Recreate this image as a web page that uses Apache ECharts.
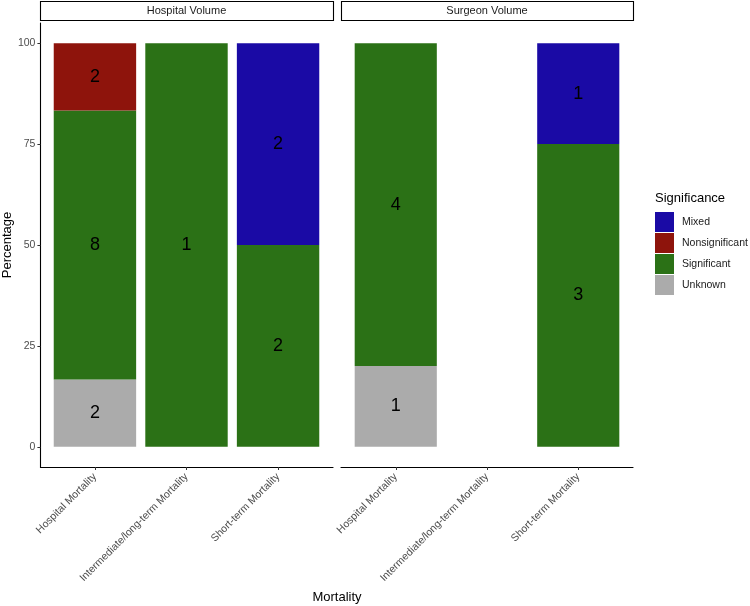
<!DOCTYPE html>
<html>
<head>
<meta charset="utf-8">
<script src="https://cdn.jsdelivr.net/npm/echarts@6/dist/echarts.min.js"></script>
<style>
  html, body { margin: 0; padding: 0; background: #fff; }
  #chart { width: 750px; height: 606px; }
</style>
</head>
<body>
<div id="chart"></div>
<script>
  // facets, categories and fill levels
  const panels = ['Hospital Volume', 'Surgeon Volume']
  const categories = ['Hospital Mortality', 'Intermediate/long-term Mortality', 'Short-term Mortality']
  const levels = ['Mixed', 'Nonsignificant', 'Significant', 'Unknown']
  const levelColors = ['#1a0aa5', '#8e140c', '#2b7116', '#ababab']

  // study counts per category
  const hospitalMixed = [0, 0, 2]
  const hospitalNonsignificant = [2, 0, 0]
  const hospitalSignificant = [8, 1, 2]
  const hospitalUnknown = [2, 0, 0]
  const surgeonMixed = [0, 0, 1]
  const surgeonNonsignificant = [0, 0, 0]
  const surgeonSignificant = [4, 0, 3]
  const surgeonUnknown = [1, 0, 0]

  const yTicks = [0, 25, 50, 75, 100]

  const counts = [
    { Mixed: hospitalMixed, Nonsignificant: hospitalNonsignificant, Significant: hospitalSignificant, Unknown: hospitalUnknown },
    { Mixed: surgeonMixed, Nonsignificant: surgeonNonsignificant, Significant: surgeonSignificant, Unknown: surgeonUnknown }
  ]

  const font = 'Liberation Sans, Arial, sans-serif'
  // panel frames (ggplot expands a discrete axis by 0.6 of a band on each side)
  const frames = [
    { left: 40, top: 23, width: 293, height: 444 },
    { left: 341, top: 23, width: 292, height: 444 }
  ]
  const barGrids = frames.map(f => {
    const band = f.width / 3.2
    return { left: f.left + band * 0.1, top: f.top, width: band * 3, height: f.height }
  })

  const chart = echarts.init(document.getElementById('chart'))

  const xAxes = []
  const yAxes = []
  // bar grids 0,1
  barGrids.forEach((g, i) => {
    xAxes.push({
      type: 'category',
      gridIndex: i,
      position: 'bottom',
      data: categories,
      axisLine: { show: false, onZero: false },
      axisTick: { show: true, alignWithLabel: true, length: 3, lineStyle: { color: '#333' } },
      axisLabel: {
        interval: 0,
        rotate: 45,
        margin: 8,
        color: '#4d4d4d',
        fontSize: 10.5,
        fontFamily: font
      }
    })
    yAxes.push({
      type: 'value',
      gridIndex: i,
      min: -5,
      max: 105,
      show: false,
      splitLine: { show: false }
    })
  })
  // frame grids 2,3
  frames.forEach((g, i) => {
    xAxes.push({
      type: 'value',
      gridIndex: i + 2,
      min: 0,
      max: 1,
      axisLine: { show: true, onZero: false, lineStyle: { color: '#000', width: 1.1 } },
      axisTick: { show: false },
      axisLabel: { show: false },
      splitLine: { show: false }
    })
    yAxes.push({
      type: 'value',
      gridIndex: i + 2,
      min: -5,
      max: 105,
      name: i === 0 ? 'Percentage' : '',
      nameLocation: 'middle',
      nameRotate: 90,
      nameGap: 23,
      nameTextStyle: { color: '#000', fontSize: 13, fontFamily: font },
      axisLine: { show: i === 0, onZero: false, lineStyle: { color: '#000', width: 1.1 } },
      axisTick: { show: i === 0, length: 3, customValues: yTicks, lineStyle: { color: '#333' } },
      axisLabel: { show: i === 0, customValues: yTicks, color: '#4d4d4d', fontSize: 10.5, fontFamily: font, margin: 5 },
      splitLine: { show: false }
    })
  })

  // bottom-to-top stacking order (ggplot puts first level on top)
  const stackOrder = ['Unknown', 'Significant', 'Nonsignificant', 'Mixed']
  const series = []
  panels.forEach((p, pi) => {
    const c = counts[pi]
    const totals = categories.map((cat, k) => levels.reduce((s, l) => s + c[l][k], 0))
    stackOrder.forEach(level => {
      series.push({
        name: level,
        type: 'bar',
        xAxisIndex: pi,
        yAxisIndex: pi,
        stack: 'panel' + pi,
        barWidth: '90%',
        itemStyle: { color: levelColors[levels.indexOf(level)] },
        label: {
          show: true,
          position: 'inside',
          color: '#000',
          fontSize: 18,
          fontFamily: font,
          formatter: params => params.data.count ? String(params.data.count) : ''
        },
        data: categories.map((cat, k) => {
          const n = c[level][k]
          return { value: totals[k] ? n / totals[k] * 100 : 0, count: n }
        })
      })
    })
  })

  const graphics = []
  panels.forEach((p, i) => {
    const g = frames[i]
    graphics.push({
      type: 'rect',
      shape: { x: g.left + 0.5, y: 1.5, width: g.width, height: 19 },
      style: { fill: '#fff', stroke: '#000', lineWidth: 1.1 }
    })
    graphics.push({
      type: 'text',
      x: g.left + g.width / 2,
      y: 11,
      style: { text: p, fill: '#1a1a1a', fontSize: 11, fontFamily: font, align: 'center', verticalAlign: 'middle' }
    })
  })
  graphics.push({
    type: 'text',
    x: 337,
    y: 597,
    style: { text: 'Mortality', fill: '#000', fontSize: 13, fontFamily: font, align: 'center', verticalAlign: 'middle' }
  })

  chart.setOption({
    animation: false,
    backgroundColor: '#fff',
    textStyle: { fontFamily: font },
    title: {
      text: 'Significance',
      left: 655,
      top: 192,
      padding: 0,
      textStyle: { fontSize: 13, fontWeight: 'normal', color: '#000', fontFamily: font }
    },
    legend: {
      data: levels,
      orient: 'vertical',
      left: 655,
      top: 212,
      padding: 0,
      itemWidth: 19,
      itemHeight: 20,
      itemGap: 1,
      icon: 'rect',
      textStyle: { fontSize: 10.5, color: '#1a1a1a', fontFamily: font, padding: [0, 0, 0, 3] }
    },
    grid: barGrids.concat(frames),
    xAxis: xAxes,
    yAxis: yAxes,
    series: series,
    graphic: graphics
  })
</script>
</body>
</html>
